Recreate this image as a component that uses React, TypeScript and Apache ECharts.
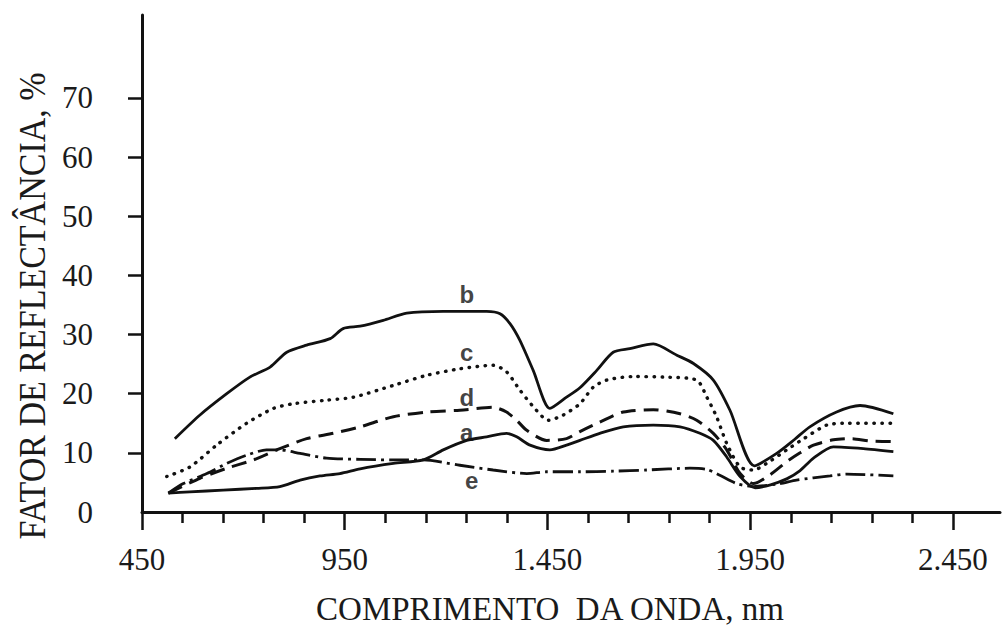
import React, { useEffect, useRef } from "react";
import * as echarts from "echarts";

// Wavelength (nm) and reflectance (%)
const nmA = [515, 568, 650, 733, 790, 840, 889, 938, 988, 1070, 1144, 1193, 1251, 1300, 1349, 1374, 1407, 1456, 1497, 1530, 1579, 1637, 1711, 1777, 1826, 1859, 1892, 1925, 1962, 2000, 2040, 2073, 2106, 2155, 2229, 2303];
const valA = [3.2, 3.4, 3.7, 4.0, 4.3, 5.4, 6.1, 6.5, 7.3, 8.2, 8.8, 10.5, 12.1, 12.7, 13.3, 12.7, 11.3, 10.5, 11.3, 12.1, 13.3, 14.4, 14.7, 14.4, 13.3, 12.1, 9.3, 6.0, 4.1, 4.6, 5.6, 7.0, 9.1, 11.0, 10.7, 10.2];

const nmB = [531, 593, 659, 716, 766, 807, 856, 914, 946, 988, 1045, 1103, 1193, 1300, 1333, 1358, 1382, 1415, 1456, 1497, 1530, 1571, 1612, 1653, 1711, 1769, 1810, 1859, 1900, 1960, 2015, 2060, 2097, 2163, 2221, 2303];
const valB = [12.4, 16.4, 20.0, 22.8, 24.5, 27.0, 28.2, 29.3, 31.0, 31.4, 32.4, 33.6, 33.9, 33.9, 33.5, 31.8, 29.0, 23.9, 17.5, 19.4, 21.0, 23.9, 27.0, 27.6, 28.4, 26.5, 25.1, 22.3, 17.2, 7.8, 9.9, 12.3, 14.4, 16.9, 18.0, 16.6];

const nmC = [511, 568, 634, 708, 774, 823, 905, 971, 1070, 1152, 1234, 1316, 1349, 1382, 1415, 1452, 1489, 1530, 1563, 1596, 1662, 1736, 1818, 1843, 1867, 1892, 1925, 1958, 1999, 2040, 2080, 2139, 2188, 2307];
const valC = [6.0, 7.6, 11.3, 15.0, 17.5, 18.3, 18.9, 19.4, 21.4, 23.1, 24.2, 24.8, 23.7, 20.6, 17.8, 15.5, 16.4, 18.3, 21.1, 22.3, 22.9, 22.8, 22.3, 19.4, 16.1, 11.6, 7.6, 7.1, 8.6, 10.5, 12.3, 14.7, 15.0, 15.0];

const nmD = [515, 593, 659, 725, 790, 856, 922, 988, 1070, 1152, 1234, 1316, 1349, 1374, 1399, 1448, 1497, 1530, 1579, 1637, 1711, 1777, 1818, 1859, 1892, 1925, 1958, 1999, 2040, 2073, 2106, 2155, 2200, 2245, 2300];
const valD = [3.2, 5.7, 7.4, 8.8, 10.7, 12.4, 13.3, 14.4, 16.1, 16.9, 17.2, 17.7, 16.9, 15.5, 13.8, 12.1, 12.4, 13.6, 15.2, 16.9, 17.3, 16.6, 15.5, 13.3, 10.5, 6.5, 4.8, 6.3, 8.5, 10.0, 11.3, 12.2, 12.4, 12.0, 11.9];

const nmE = [515, 552, 610, 659, 708, 757, 790, 840, 905, 988, 1070, 1144, 1234, 1316, 1399, 1448, 1530, 1612, 1695, 1801, 1843, 1875, 1917, 1958, 2023, 2064, 2147, 2188, 2303];
const valE = [3.2, 4.8, 6.5, 8.2, 9.6, 10.5, 10.5, 9.9, 9.1, 8.9, 8.8, 8.8, 7.9, 7.1, 6.5, 6.8, 6.8, 6.9, 7.1, 7.4, 7.2, 6.2, 4.8, 4.3, 4.8, 5.4, 6.1, 6.4, 6.1];

// Curve letters: [nm, %, letter]
const curveLetters: [number, number, string][] = [
  [1251, 36.8, "b"],
  [1251, 27.0, "c"],
  [1251, 19.4, "d"],
  [1251, 13.5, "a"],
  [1263, 5.4, "e"],
];

const xMajorTicks = [450, 950, 1450, 1950, 2450];
const xMinorTicks = [550, 650, 750, 850, 1050, 1150, 1250, 1350, 1550, 1650, 1750, 1850, 2050, 2150, 2250, 2350];
const yTickLabels = [0, 10, 20, 30, 40, 50, 60, 70];
const yTicks = [10, 20, 30, 40, 50, 60, 70];

const xTitle = "COMPRIMENTO  DA ONDA, nm";
const yTitle = "FATOR DE REFLECTÂNCIA, %";

const zip = (xs: number[], ys: number[]) => xs.map((x, i) => [x, ys[i]]);

const fmtNm = (v: number) =>
  v >= 1000 ? `${Math.floor(v / 1000)}.${String(v % 1000).padStart(3, "0")}` : String(v);

const INK = "#111";
const SERIF = '"Liberation Serif", "Times New Roman", serif';

export default function App() {
  const ref = useRef<HTMLDivElement>(null);
  useEffect(() => {
    if (!ref.current) return;
    const chart = echarts.init(ref.current, null, { renderer: "svg" });
    const line = (name: string, data: number[][], lineStyle: any) => ({
      name,
      type: "line",
      data,
      showSymbol: false,
      symbol: "none",
      smooth: 0.25,
      lineStyle: { color: INK, width: 2.8, ...lineStyle },
    });
    chart.setOption({
      animation: false,
      backgroundColor: "#fff",
      grid: { left: 142, right: 3, top: 15, bottom: 115, containLabel: false },
      xAxis: [
        {
          type: "value",
          min: 450,
          max: 2566,
          axisLine: { show: true, lineStyle: { color: INK, width: 3 } },
          axisTick: { show: true, customValues: xMajorTicks, length: 18, lineStyle: { color: INK, width: 2.5 } },
          axisLabel: {
            show: true,
            customValues: xMajorTicks,
            formatter: (v: number) => fmtNm(v),
            fontFamily: SERIF,
            fontSize: 31,
            color: "#1a1a1a",
            margin: 32,
          },
          splitLine: { show: false },
        },
        {
          type: "value",
          position: "bottom",
          min: 450,
          max: 2566,
          axisLine: { show: false },
          axisTick: { show: true, customValues: xMinorTicks, length: 11, lineStyle: { color: INK, width: 2.5 } },
          axisLabel: { show: false },
          splitLine: { show: false },
        },
      ],
      yAxis: {
        type: "value",
        min: 0,
        max: 84,
        axisLine: { show: true, lineStyle: { color: INK, width: 3 } },
        axisTick: { show: true, customValues: yTicks, length: 14, lineStyle: { color: INK, width: 2.5 } },
        axisLabel: {
          show: true,
          customValues: yTickLabels,
          fontFamily: SERIF,
          fontSize: 31,
          color: "#1a1a1a",
          margin: 49,
        },
        splitLine: { show: false },
      },
      graphic: [
        {
          type: "text",
          x: 550,
          y: 625,
          style: { text: xTitle, font: `33px ${SERIF}`, fill: "#1a1a1a", textAlign: "center", textVerticalAlign: "bottom" },
        },
        {
          type: "text",
          x: 32,
          y: 306,
          rotation: Math.PI / 2,
          scaleY: 1.1,
          style: { text: yTitle, font: `34px ${SERIF}`, fill: "#1a1a1a", textAlign: "center", textVerticalAlign: "middle" },
        },
      ],
      series: [
        line("a", zip(nmA, valA), { type: "solid" }),
        line("b", zip(nmB, valB), { type: "solid" }),
        line("c", zip(nmC, valC), { type: [0.5, 7.5], cap: "round", width: 3.4 }),
        line("d", zip(nmD, valD), { type: [15, 8], width: 3 }),
        line("e", zip(nmE, valE), { type: [20, 5, 3, 5], width: 2.8 }),
        {
          type: "scatter",
          symbolSize: 0,
          data: curveLetters.map(([x, y, t]) => [x, y, t]),
          label: {
            show: true,
            position: "inside",
            formatter: (p: any) => p.data[2],
            fontFamily: '"Liberation Sans", Arial, sans-serif',
            fontWeight: "bold",
            fontSize: 24,
            color: INK,
          },
        },
      ],
    });
    return () => chart.dispose();
  }, []);
  return (
    <div
      ref={ref}
      style={{ position: "fixed", left: 0, top: 0, width: 1003, height: 627, background: "#fff" }}
    />
  );
}
